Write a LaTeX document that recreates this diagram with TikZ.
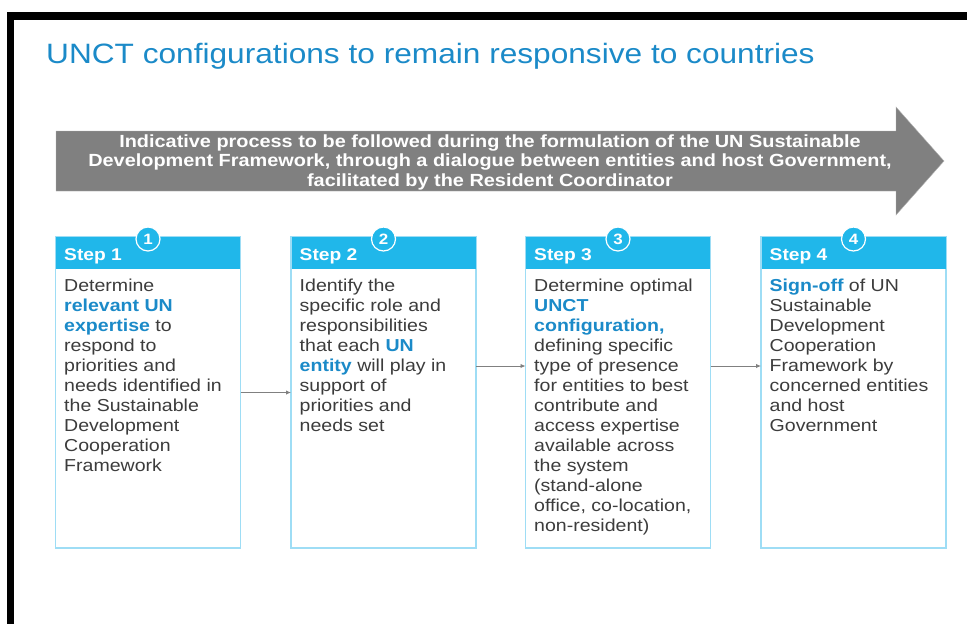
\documentclass[tikz,border=0pt]{standalone}
\usepackage{fontspec}
\setmainfont{Liberation Sans}[FakeStretch=1.13]
\usepackage{tikz}
\usetikzlibrary{arrows.meta}

\definecolor{unblue}{RGB}{27,138,200}
\definecolor{headblue}{RGB}{32,183,234}
\definecolor{edgeblue}{RGB}{158,221,245}
\definecolor{bodygray}{RGB}{60,60,60}
\definecolor{bandgray}{RGB}{128,128,128}

\newcommand{\keyterm}[1]{\textbf{\color{unblue}#1}}

\tikzset{
  stepbox/.style={draw=edgeblue, line width=1.5pt, outer sep=0pt, inner sep=0pt,
    minimum width=185pt, minimum height=311pt},
  stephead/.style={fill=headblue, outer sep=0pt, inner sep=0pt,
    minimum width=184pt, minimum height=32pt},
  numdot/.style={circle, fill=headblue, draw=white, line width=1.2pt, inner sep=0pt,
    minimum size=24pt, text=white, font=\fontsize{15}{15}\selectfont\bfseries},
  steplabel/.style={text=white, inner sep=0pt, font=\fontsize{17}{17}\selectfont\bfseries},
  bodytext/.style={text=bodygray, inner sep=0pt, align=left,
    font=\fontsize{17.3}{20}\selectfont},
  flow/.style={draw=bandgray, line width=0.9pt, -{Latex[length=5pt,width=4.5pt]}}
}

\begin{document}
\begin{tikzpicture}[x=1pt,y=-1pt]
  \useasboundingbox (0,0) rectangle (967,624);
  \fill[black] (7,12) rectangle (967,20);
  \fill[black] (7,12) rectangle (14,624);

  \node[anchor=base west, inner sep=0pt, text=unblue, font=\fontsize{28}{28}\selectfont] (title) at (46,63)
    {UNCT configurations to remain responsive to countries};

  % process band
  \fill[bandgray, draw=bandgray!60] (56,131) -- (896,131) -- (896,107) -- (944,161)
    -- (896,215) -- (896,191) -- (56,191) -- cycle;
  \node[text=white, inner sep=0pt, align=center, font=\fontsize{17.6}{19.5}\selectfont\bfseries] (band) at (490,162)
    {Indicative process to be followed during the formulation of the UN Sustainable\\
     Development Framework, through a dialogue between entities and host Government,\\
     facilitated by the Resident Coordinator};

  % steps
  \foreach \i/\x in {1/148, 2/383.5, 3/618, 4/853.5} {
    \node[stepbox] (step\i) at (\x,392.5) {};
    \node[stephead, anchor=north] (head\i) at (step\i.north) {};
    \node[steplabel, anchor=base west] at ([shift={(8,7)}]head\i.west) {Step \i};
    \node[numdot] (num\i) at ([yshift=-2pt]head\i.north) {\i};
  }

  \node[bodytext, anchor=north west] (txt1) at ([shift={(8,25.4)}]head1.west)
    {Determine\\ \keyterm{relevant UN}\\ \keyterm{expertise} to\\ respond to\\ priorities and\\
     needs identified in\\ the Sustainable\\ Development\\ Cooperation\\ Framework};
  \node[bodytext, anchor=north west] (txt2) at ([shift={(8,25.4)}]head2.west)
    {Identify the\\ specific role and\\ responsibilities\\ that each \keyterm{UN}\\
     \keyterm{entity} will play in\\ support of\\ priorities and\\ needs set};
  \node[bodytext, anchor=north west] (txt3) at ([shift={(8,25.4)}]head3.west)
    {Determine optimal\\ \keyterm{UNCT}\\ \keyterm{configuration,}\\ defining specific\\
     type of presence\\ for entities to best\\ contribute and\\ access expertise\\
     available across\\ the system\\ (stand-alone\\ office, co-location,\\ non-resident)};
  \node[bodytext, anchor=north west] (txt4) at ([shift={(8,25.4)}]head4.west)
    {\keyterm{Sign-off} of UN\\ Sustainable\\ Development\\ Cooperation\\ Framework by\\
     concerned entities\\ and host\\ Government};

  \draw[flow] (step1.east) -- (step2.west);
  \draw[flow] (step2.east |- 0,366) -- (step3.west |- 0,366);
  \draw[flow] (step3.east |- 0,366) -- (step4.west |- 0,366);
\end{tikzpicture}
\end{document}
